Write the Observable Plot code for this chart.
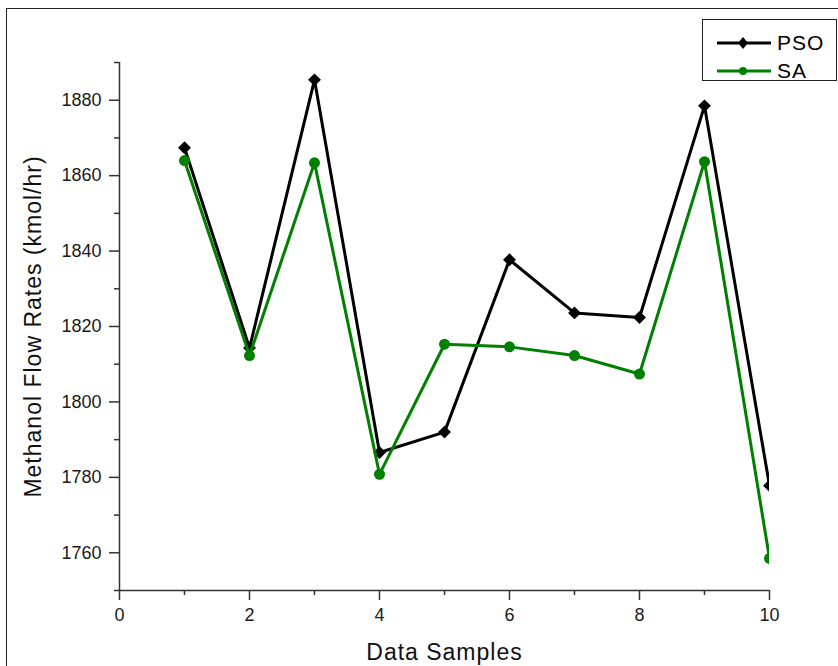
<!DOCTYPE html>
<html>
<head>
<meta charset="utf-8">
<script src="https://cdn.jsdelivr.net/npm/d3@7"></script>
<script src="https://cdn.jsdelivr.net/npm/@observablehq/plot@0.6"></script>
<style>
  html, body { margin: 0; padding: 0; background: #fff; }
  #wrap { position: relative; width: 838px; height: 666px; overflow: hidden; font-family: "Liberation Sans", Arial, sans-serif; }
  #frame { position: absolute; left: 6px; top: 8px; width: 900px; height: 700px; border: 1.5px solid #222; box-sizing: border-box; }
  #chart { position: absolute; left: 0; top: 0; }
  #legend { position: absolute; left: 702px; top: 19px; width: 135px; height: 62px; border: 1px solid #222; box-sizing: border-box; background: #fff; }
  .row { position: absolute; left: 12px; height: 28px; display: flex; align-items: center; }
  .row span { font-size: 21px; letter-spacing: 1px; color: #000; margin-left: 4px; }
</style>
</head>
<body>
<div id="wrap">
  <div id="frame"></div>
  <div id="chart"></div>
  <div id="legend"></div>
</div>
<script>
const samples = [1, 2, 3, 4, 5, 6, 7, 8, 9, 10];
const psoValues = [1867.4, 1814.3, 1885.4, 1786.6, 1792.0, 1837.7, 1823.6, 1822.4, 1878.5, 1777.8];
const saValues  = [1864.0, 1812.3, 1863.4, 1780.8, 1815.3, 1814.6, 1812.3, 1807.4, 1863.7, 1758.5];
const seriesNames = ["PSO", "SA"];
const seriesColors = ["#000000", "#008000"];
const yMajorTicks = [1760, 1780, 1800, 1820, 1840, 1860, 1880];
const yMinorTicks = [1750, 1770, 1790, 1810, 1830, 1850, 1870, 1890];
const xMajorTicks = [0, 2, 4, 6, 8, 10];
const xMinorTicks = [1, 3, 5, 7, 9];
const xLabel = "Data Samples";
const yLabel = "Methanol Flow Rates (kmol/hr)";

const pso = samples.map((s, i) => ({x: s, y: psoValues[i]}));
const sa = samples.map((s, i) => ({x: s, y: saValues[i]}));

const axisColor = "#333";
const chart = Plot.plot({
  width: 838,
  height: 666,
  marginLeft: 119,
  marginRight: 69,
  marginTop: 62,
  marginBottom: 76,
  style: { fontFamily: "Liberation Sans, Arial, sans-serif", background: "transparent", overflow: "visible", color: "#1a1a1a" },
  x: { domain: [0, 10] },
  y: { domain: [1750, 1890] },
  marks: [
    Plot.axisY({ ticks: yMajorTicks, tickSize: 10, tickPadding: 8, fontSize: 18, tickFormat: d => String(d), label: null, stroke: axisColor, strokeWidth: 1.5 }),
    Plot.axisY({ ticks: yMinorTicks, tickSize: 5, tickFormat: () => "", label: null, stroke: axisColor, strokeWidth: 1.5 }),
    Plot.axisX({ ticks: xMajorTicks, tickSize: 10, tickPadding: 8, fontSize: 18, tickFormat: d => String(d), label: null, stroke: axisColor, strokeWidth: 1.5 }),
    Plot.axisX({ ticks: xMinorTicks, tickSize: 5, tickFormat: () => "", label: null, stroke: axisColor, strokeWidth: 1.5 }),
    Plot.ruleX([0], { stroke: axisColor, strokeWidth: 1.5 }),
    Plot.ruleY([1750], { stroke: axisColor, strokeWidth: 1.5 }),
    Plot.line(pso, { x: "x", y: "y", stroke: seriesColors[0], strokeWidth: 3, clip: true }),
    Plot.dot(pso, { x: "x", y: "y", symbol: "diamond2", r: 5.8, fill: seriesColors[0], stroke: "none", clip: true }),
    Plot.line(sa, { x: "x", y: "y", stroke: seriesColors[1], strokeWidth: 3, clip: true }),
    Plot.dot(sa, { x: "x", y: "y", symbol: "circle", r: 5.5, fill: seriesColors[1], stroke: "none", clip: true }),
    Plot.text([xLabel], { frameAnchor: "bottom", dy: 62, fontSize: 23, textAnchor: "middle", lineAnchor: "middle", fill: "#111" }),
    Plot.text([yLabel], { frameAnchor: "left", dx: -86, rotate: -90, fontSize: 23, textAnchor: "middle", lineAnchor: "middle", fill: "#111" })
  ]
});
chart.querySelectorAll("text").forEach(t => { if (t.textContent === xLabel || t.textContent === yLabel) t.setAttribute("letter-spacing", "1"); });
document.getElementById("chart").appendChild(chart);

// Legend
const legend = document.getElementById("legend");
seriesNames.forEach((name, i) => {
  const row = document.createElement("div");
  row.className = "row";
  row.style.top = (9 + i * 28) + "px";
  const sym = i === 0
    ? `<path d="M28,8 L33,14 L28,20 L23,14 Z" fill="${seriesColors[i]}"/>`
    : `<circle cx="28" cy="14" r="4" fill="${seriesColors[i]}"/>`;
  row.innerHTML = `<svg width="58" height="28"><line x1="2" x2="56" y1="14" y2="14" stroke="${seriesColors[i]}" stroke-width="3"/>${sym}</svg><span>${name}</span>`;
  legend.appendChild(row);
});
</script>
</body>
</html>
